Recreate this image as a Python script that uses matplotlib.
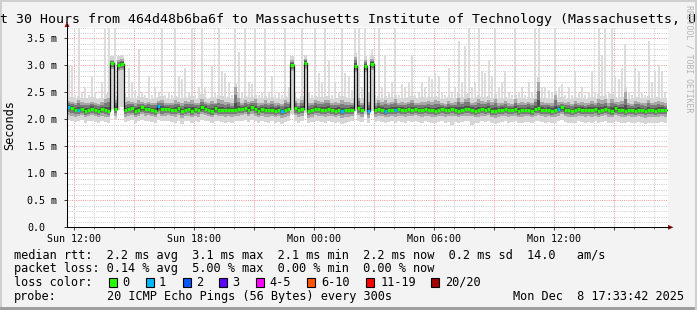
import numpy as np
import matplotlib
matplotlib.use("Agg")
import matplotlib.pyplot as plt
from matplotlib.patches import Rectangle, Polygon
from matplotlib.lines import Line2D
from matplotlib.ticker import MultipleLocator, FixedLocator, FuncFormatter

# ---------------- data (10-minute samples, hours relative to Sun 12:00) ----------------
t_start = -0.35          # first sample (hours after Sun 12:00)
t_step = 1.0 / 6.0       # 10 minutes

median_ms = [
    2.23, 2.21, 2.18, 2.17, 2.19, 2.16, 2.18, 2.20, 2.17, 2.15, 2.19, 2.17,
    2.16, 3.04, 2.19, 3.00, 3.03, 2.17, 2.19, 2.21, 2.16, 2.18, 2.22, 2.19,
    2.20, 2.18, 2.16, 2.24, 2.19, 2.19, 2.20, 2.18, 2.17, 2.21, 2.15, 2.18,
    2.20, 2.16, 2.19, 2.17, 2.22, 2.20, 2.18, 2.16, 2.21, 2.18, 2.18, 2.17,
    2.18, 2.17, 2.18, 2.19, 2.20, 2.21, 2.18, 2.23, 2.19, 2.16, 2.19, 2.17,
    2.17, 2.18, 2.16, 2.18, 2.15, 2.17, 2.19, 3.01, 2.21, 2.17, 2.19, 3.05,
    2.15, 2.17, 2.20, 2.19, 2.18, 2.17, 2.19, 2.18, 2.16, 2.18, 2.15, 2.17,
    2.17, 2.18, 2.99, 2.21, 2.17, 2.99, 2.15, 3.03, 2.17, 2.19, 2.18, 2.16,
    2.17, 2.18, 2.17, 2.19, 2.18, 2.17, 2.19, 2.18, 2.20, 2.18, 2.17, 2.19,
    2.18, 2.17, 2.16, 2.18, 2.19, 2.17, 2.18, 2.19, 2.18, 2.16, 2.18, 2.19,
    2.19, 2.18, 2.16, 2.17, 2.19, 2.18, 2.20, 2.16, 2.15, 2.17, 2.18, 2.19,
    2.17, 2.18, 2.19, 2.16, 2.17, 2.18, 2.18, 2.16, 2.19, 2.21, 2.18, 2.17,
    2.18, 2.16, 2.17, 2.19, 2.22, 2.18, 2.17, 2.16, 2.17, 2.19, 2.18, 2.17,
    2.18, 2.17, 2.19, 2.16, 2.18, 2.20, 2.17, 2.16, 2.21, 2.18, 2.17, 2.16,
    2.18, 2.17, 2.16, 2.18, 2.17, 2.15, 2.17, 2.17, 2.16, 2.17, 2.18, 2.17,
]

max_ms = [
    3.00, 3.00, 2.45, 3.70, 2.50, 2.60, 2.45, 2.80, 2.50, 2.40, 2.70, 3.70,
    3.70, 3.15, 3.70, 3.15, 3.20, 2.50, 2.95, 2.70, 2.55, 3.30, 2.50, 2.45,
    2.80, 2.45, 2.60, 2.50, 3.70, 2.45, 2.50, 2.45, 3.70, 2.80, 2.75, 2.95,
    2.50, 3.70, 2.45, 2.60, 3.70, 2.60, 2.40, 3.00, 2.50, 3.70, 2.90, 2.85,
    2.70, 2.45, 3.70, 3.25, 2.50, 3.70, 2.70, 2.65, 3.70, 2.45, 2.50, 3.70,
    2.50, 2.80, 2.45, 2.50, 2.45, 3.70, 2.60, 3.15, 2.50, 2.40, 3.70, 3.15,
    2.50, 2.45, 3.70, 2.85, 2.70, 3.70, 3.10, 2.45, 2.70, 2.50, 3.70, 2.85,
    2.80, 2.55, 3.70, 3.70, 2.60, 3.70, 2.50, 3.30, 2.45, 3.70, 2.60, 3.20,
    2.50, 2.70, 3.70, 2.45, 2.65, 2.60, 2.70, 3.20, 2.45, 2.50, 2.70, 2.60,
    2.80, 2.75, 2.85, 2.80, 2.50, 2.45, 2.95, 2.50, 2.60, 3.45, 2.70, 3.35,
    3.70, 2.60, 2.70, 3.70, 2.90, 2.85, 3.10, 2.80, 3.70, 2.60, 2.70, 2.90,
    2.50, 2.45, 3.70, 2.50, 2.60, 2.45, 2.70, 2.50, 3.70, 3.70, 2.60, 2.60,
    2.55, 2.50, 3.70, 2.60, 2.65, 2.45, 2.60, 2.45, 2.90, 2.50, 2.60, 2.45,
    2.50, 2.90, 2.50, 3.70, 3.20, 3.70, 2.50, 3.70, 2.80, 2.75, 2.95, 3.40,
    2.50, 2.45, 2.95, 2.90, 2.50, 2.45, 3.45, 2.70, 2.90, 3.00, 2.90, 2.50,
]

upper_ms = [
    2.34, 2.33, 2.30, 2.36, 2.32, 2.31, 2.30, 2.33, 2.31, 2.29, 2.32, 2.38,
    2.40, 3.10, 2.36, 3.10, 3.12, 2.33, 2.34, 2.32, 2.30, 2.35, 2.33, 2.31,
    2.32, 2.30, 2.31, 2.34, 2.36, 2.30, 2.31, 2.30, 2.35, 2.33, 2.31, 2.34,
    2.32, 2.36, 2.30, 2.31, 2.38, 2.33, 2.30, 2.34, 2.31, 2.37, 2.35, 2.32,
    2.33, 2.30, 2.60, 2.40, 2.31, 2.36, 2.33, 2.34, 2.37, 2.30, 2.31, 2.35,
    2.31, 2.34, 2.30, 2.31, 2.29, 2.36, 2.33, 3.10, 2.34, 2.30, 2.36, 3.12,
    2.30, 2.31, 2.35, 2.34, 2.33, 2.36, 2.35, 2.30, 2.32, 2.31, 2.36, 2.33,
    2.32, 2.31, 3.15, 2.40, 2.31, 3.10, 2.33, 3.12, 2.30, 2.36, 2.32, 2.35,
    2.31, 2.33, 2.37, 2.30, 2.32, 2.31, 2.33, 2.36, 2.31, 2.30, 2.33, 2.32,
    2.34, 2.33, 2.35, 2.34, 2.30, 2.29, 2.34, 2.31, 2.32, 2.40, 2.33, 2.38,
    2.40, 2.31, 2.33, 2.37, 2.34, 2.33, 2.36, 2.32, 2.38, 2.30, 2.31, 2.34,
    2.30, 2.29, 2.37, 2.31, 2.32, 2.30, 2.33, 2.31, 2.38, 2.70, 2.32, 2.31,
    2.31, 2.30, 2.45, 2.32, 2.33, 2.30, 2.32, 2.29, 2.34, 2.31, 2.32, 2.30,
    2.31, 2.34, 2.31, 2.38, 2.35, 2.37, 2.30, 2.38, 2.33, 2.32, 2.34, 2.50,
    2.30, 2.29, 2.34, 2.33, 2.31, 2.30, 2.36, 2.31, 2.33, 2.34, 2.32, 2.30,
]

lower_ms = [
    2.08, 2.07, 2.05, 2.06, 2.08, 2.04, 2.06, 2.08, 2.06, 2.04, 2.07, 2.05,
    2.04, 2.93, 2.07, 2.90, 2.92, 2.05, 2.07, 2.08, 2.04, 2.06, 2.09, 2.07,
    2.08, 2.06, 2.04, 2.10, 2.06, 2.07, 2.08, 2.06, 2.05, 2.08, 2.03, 2.06,
    2.07, 2.04, 2.07, 2.05, 2.09, 2.08, 2.06, 2.04, 2.08, 2.06, 2.06, 2.05,
    2.06, 2.05, 2.06, 2.07, 2.08, 2.09, 2.06, 2.10, 2.07, 2.04, 2.07, 2.05,
    2.05, 2.06, 2.04, 2.06, 2.03, 2.05, 2.07, 2.90, 2.08, 2.05, 2.07, 2.94,
    2.03, 2.05, 2.08, 2.07, 2.06, 2.05, 2.07, 2.06, 2.04, 2.06, 2.03, 2.05,
    2.05, 2.06, 2.88, 2.08, 2.05, 2.88, 2.03, 2.92, 2.05, 2.07, 2.06, 2.04,
    2.05, 2.06, 2.05, 2.07, 2.06, 2.05, 2.07, 2.06, 2.08, 2.06, 2.05, 2.07,
    2.06, 2.05, 2.04, 2.06, 2.07, 2.05, 2.06, 2.07, 2.06, 2.04, 2.06, 2.07,
    2.07, 2.06, 2.04, 2.05, 2.07, 2.06, 2.08, 2.04, 2.03, 2.05, 2.06, 2.07,
    2.05, 2.06, 2.07, 2.04, 2.05, 2.06, 2.06, 2.04, 2.07, 2.08, 2.06, 2.05,
    2.06, 2.04, 2.05, 2.07, 2.09, 2.06, 2.05, 2.04, 2.05, 2.07, 2.06, 2.05,
    2.06, 2.05, 2.07, 2.04, 2.06, 2.08, 2.05, 2.04, 2.08, 2.06, 2.05, 2.04,
    2.06, 2.05, 2.04, 2.06, 2.05, 2.03, 2.05, 2.05, 2.04, 2.05, 2.06, 2.05,
]

min_ms = [
    1.98, 1.97, 1.95, 1.96, 1.98, 1.93, 1.96, 1.97, 1.95, 1.94, 1.97, 1.95,
    1.94, 2.20, 1.98, 2.18, 2.22, 1.95, 1.96, 1.98, 1.93, 1.96, 1.99, 1.97,
    1.97, 1.95, 1.94, 1.99, 1.96, 1.97, 1.97, 1.95, 1.94, 1.97, 1.92, 1.96,
    1.96, 1.94, 1.97, 1.95, 1.98, 1.97, 1.96, 1.93, 1.97, 1.96, 1.95, 1.94,
    1.95, 1.94, 1.96, 1.97, 1.97, 1.98, 1.95, 1.99, 1.96, 1.94, 1.97, 1.95,
    1.94, 1.96, 1.93, 1.95, 1.92, 1.95, 1.97, 2.10, 1.97, 1.94, 1.96, 2.12,
    1.93, 1.95, 1.97, 1.96, 1.95, 1.94, 1.96, 1.95, 1.93, 1.95, 1.92, 1.94,
    1.95, 1.96, 2.15, 1.97, 1.95, 2.10, 1.93, 2.15, 1.95, 1.96, 1.95, 1.94,
    1.95, 1.96, 1.94, 1.96, 1.95, 1.94, 1.97, 1.95, 1.97, 1.95, 1.94, 1.96,
    1.95, 1.94, 1.93, 1.95, 1.96, 1.94, 1.95, 1.90, 1.95, 1.93, 1.95, 1.96,
    1.96, 1.89, 1.93, 1.94, 1.96, 1.95, 1.97, 1.93, 1.92, 1.94, 1.95, 1.96,
    1.94, 1.95, 1.96, 1.93, 1.94, 1.95, 1.95, 1.93, 1.96, 1.97, 1.95, 1.94,
    1.95, 1.93, 1.94, 1.96, 1.98, 1.95, 1.94, 1.93, 1.94, 1.96, 1.95, 1.94,
    1.95, 1.94, 1.96, 1.93, 1.95, 1.97, 1.94, 1.93, 1.97, 1.95, 1.94, 1.93,
    1.95, 1.94, 1.93, 1.95, 1.94, 1.92, 1.94, 1.94, 1.93, 1.94, 1.95, 1.94,
]

lost_pings = [
    1, 0, 0, 1, 0, 0, 0, 0, 0, 0, 0, 0,
    0, 0, 0, 0, 0, 0, 0, 0, 0, 0, 0, 0,
    0, 0, 0, 1, 0, 0, 0, 0, 0, 0, 0, 0,
    0, 0, 0, 0, 0, 0, 0, 0, 0, 0, 0, 0,
    0, 0, 0, 0, 0, 0, 0, 0, 0, 0, 0, 0,
    0, 0, 0, 0, 1, 0, 0, 0, 0, 0, 0, 0,
    0, 0, 0, 0, 0, 0, 0, 0, 0, 0, 1, 0,
    0, 0, 0, 0, 0, 0, 1, 0, 0, 0, 0, 1,
    0, 0, 1, 0, 0, 0, 0, 0, 0, 0, 0, 0,
    0, 0, 0, 0, 0, 0, 0, 0, 0, 0, 0, 0,
    0, 0, 0, 0, 0, 0, 0, 0, 0, 0, 0, 0,
    0, 0, 0, 0, 0, 0, 0, 0, 0, 0, 0, 0,
    0, 0, 0, 1, 0, 0, 0, 0, 0, 0, 0, 0,
    0, 0, 0, 0, 0, 0, 0, 0, 0, 0, 0, 0,
    0, 0, 0, 0, 0, 0, 0, 0, 0, 0, 0, 0,
]

loss_labels = ["0", "1", "2", "3", "4-5", "6-10", "11-19", "20/20"]
loss_colors = ["#26ff00", "#00b8ff", "#0059ff", "#5e00ff", "#ff00ff", "#ff5500", "#ff0000", "#a10000"]

xtick_hours = [0, 6, 12, 18, 24]
xtick_labels = ["Sun 12:00", "Sun 18:00", "Mon 00:00", "Mon 06:00", "Mon 12:00"]
ytick_values = [0.0, 0.5, 1.0, 1.5, 2.0, 2.5, 3.0, 3.5]
ytick_labels = ["0.0", "0.5 m", "1.0 m", "1.5 m", "2.0 m", "2.5 m", "3.0 m", "3.5 m"]

title = "Last 30 Hours from 464d48b6ba6f to Massachusetts Institute of Technology (Massachusetts, US)"
row_rtt = "median rtt:  2.2 ms avg  3.1 ms max  2.1 ms min  2.2 ms now  0.2 ms sd  14.0   am/s"
row_loss = "packet loss: 0.14 % avg  5.00 % max  0.00 % min  0.00 % now"
probe_text = "20 ICMP Echo Pings (56 Bytes) every 300s"
stamp_text = "Mon Dec  8 17:33:42 2025"

# ---------------- figure ----------------
W, H, DPI = 697, 310, 100
MONO = "DejaVu Sans Mono"
fig = plt.figure(figsize=(W / DPI, H / DPI), dpi=DPI, facecolor="#f3f3f3")

def fx(px):
    return px / W

def fy(py):
    return 1 - py / H

# frame shading
fig.add_artist(Rectangle((0, fy(2)), 1, 2 / H, transform=fig.transFigure, color="#cfcfcf", lw=0))
fig.add_artist(Rectangle((0, 0), 2 / W, 1, transform=fig.transFigure, color="#cfcfcf", lw=0))
fig.add_artist(Rectangle((0, 0), 1, 3 / H, transform=fig.transFigure, color="#9e9e9e", lw=0))
fig.add_artist(Rectangle((fx(695), 0), 2 / W, 1, transform=fig.transFigure, color="#cfcfcf", lw=0))

AX_L, AX_R, AX_T, AX_B = 67, 668, 27, 227.3
ax = fig.add_axes([fx(AX_L), fy(AX_B), (AX_R - AX_L) / W, (AX_B - AX_T) / H])
ax.set_facecolor("white")
ax.set_xlim(-0.35, 29.7)
ax.set_ylim(0, 3.71)

med = np.array(median_ms)
hi = np.array(max_ms)
up = np.array(upper_ms)
lw_ = np.array(lower_ms)
lo = np.array(min_ms)
N = len(med)
te = t_start + np.arange(N + 1) * t_step
tc = te[:-1] + t_step / 2

def ext(a):
    return np.append(a, a[-1])

# outer smoke: thin bars for the slowest pings, continuous light band near the core
ax.bar(tc, hi - lo, bottom=lo, width=t_step * 0.55, color="#dcdcdc", lw=0, zorder=2)
ax.fill_between(te, ext(lo), ext(up + 0.08), step="post", color="#d6d6d6", lw=0, zorder=2)
ax.fill_between(te, ext(lw_), ext(up), step="post", color="#a8a8a8", lw=0, zorder=3)
for frac, col in [(0.65, "#7a7a7a"), (0.3, "#505050")]:
    a = med - frac * (med - lw_)
    b = med + frac * (up - med)
    ax.fill_between(te, ext(a), ext(b), step="post", color=col, lw=0, zorder=4)

ax.step(te, ext(med), where="post", color="#101010", lw=0.9, zorder=5)
seg_colors = [loss_colors[min(l, 7)] for l in lost_pings]
ax.hlines(med, te[:-1], te[1:], colors=seg_colors, lw=2.3, zorder=6)

# grid
ax.xaxis.set_major_locator(MultipleLocator(3))
ax.xaxis.set_minor_locator(MultipleLocator(1))
lab = dict(zip(xtick_hours, xtick_labels))
ax.xaxis.set_major_formatter(FuncFormatter(lambda v, p: lab.get(int(round(v)), "") if abs(v - round(v)) < 1e-6 else ""))
ax.yaxis.set_major_locator(FixedLocator(ytick_values))
ax.yaxis.set_minor_locator(MultipleLocator(0.1))
ax.set_yticklabels(ytick_labels)

ax.grid(which="minor", color="#cfcfcf", lw=0.72, linestyle=(0, (1, 1.2)), zorder=1)
ax.grid(which="major", color="#f09a9a", lw=0.72, linestyle=(0, (1, 1.2)), zorder=1)
ax.set_axisbelow(True)

for s in ax.spines.values():
    s.set_visible(False)

ax.tick_params(axis="x", which="major", length=2.2, width=0.7, color="#404040", pad=2.5,
               labelsize=7.2, labelfontfamily=MONO, direction="out")
ax.tick_params(axis="x", which="minor", length=1.5, width=0.7, color="#808080", direction="out")
ax.tick_params(axis="y", which="major", length=2.2, width=0.7, color="#404040", pad=26.5,
               labelsize=7.2, labelfontfamily=MONO, direction="out")
ax.tick_params(axis="y", which="minor", length=0)
for tl in ax.get_yticklabels():
    tl.set_ha("left")

# axes lines with arrows
fig.add_artist(Line2D([fx(AX_L), fx(AX_L)], [fy(AX_B), fy(24)], transform=fig.transFigure, color="#000000", lw=0.75))
fig.add_artist(Line2D([fx(AX_L), fx(670)], [fy(AX_B), fy(AX_B)], transform=fig.transFigure, color="#000000", lw=0.75))
fig.add_artist(Polygon([(fx(64.5), fy(27)), (fx(69.5), fy(27)), (fx(67), fy(21.5))], closed=True,
                       transform=fig.transFigure, color="#9c1010", lw=0))
fig.add_artist(Polygon([(fx(668), fy(224.8)), (fx(668), fy(229.8)), (fx(673.5), fy(227.3))], closed=True,
                       transform=fig.transFigure, color="#9c1010", lw=0))

# texts
fig.text(fx(344), fy(19), title, ha="center", va="center", family=MONO, fontsize=9.5, color="#000000")
fig.text(fx(689), fy(59), "RRDTOOL / TOBI OETIKER", rotation=270, ha="center", va="center",
         family=MONO, fontsize=5.9, color="#b4b4b4")
fig.text(fx(10), fy(125), "Seconds", rotation=90, ha="center", va="center", family=MONO, fontsize=8.6)

LFS = 8.6
fig.text(fx(14), fy(255), row_rtt, ha="left", va="center", family=MONO, fontsize=LFS)
fig.text(fx(14), fy(268.5), row_loss, ha="left", va="center", family=MONO, fontsize=LFS)
fig.text(fx(14), fy(282), "loss color:", ha="left", va="center", family=MONO, fontsize=LFS)
box_x = [109, 145.7, 182.7, 219, 256, 307.3, 365.7, 431]
label_x = [122.3, 159, 195.7, 232.3, 269.7, 321.7, 380.7, 445]
for bx, tx, lbl, col in zip(box_x, label_x, loss_labels, loss_colors):
    fig.add_artist(Rectangle((fx(bx), fy(286.5)), 8 / W, 8.5 / H, transform=fig.transFigure,
                             facecolor=col, edgecolor="#000000", lw=0.8))
    fig.text(fx(tx), fy(282), lbl, ha="left", va="center", family=MONO, fontsize=LFS)
fig.text(fx(14), fy(296.5), "probe:", ha="left", va="center", family=MONO, fontsize=LFS)
fig.text(fx(107), fy(296.5), probe_text, ha="left", va="center", family=MONO, fontsize=LFS)
fig.text(fx(684), fy(296.5), stamp_text, ha="right", va="center", family=MONO, fontsize=LFS)

fig.savefig("out.png", dpi=DPI, facecolor=fig.get_facecolor())
